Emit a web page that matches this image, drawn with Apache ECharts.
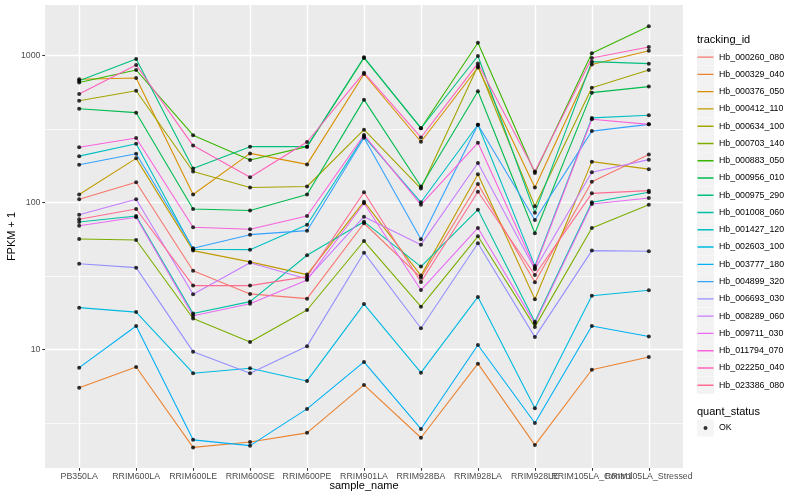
<!DOCTYPE html>
<html>
<head>
<meta charset="utf-8">
<script src="https://cdn.jsdelivr.net/npm/echarts@6/dist/echarts.min.js"></script>
<style>
html,body{margin:0;padding:0;background:#ffffff;}
#chart{width:800px;height:500px;}
</style>
</head>
<body>
<div id="chart"></div>
<script>
// ---- data (FPKM + 1 values) ----
const categories = ["PB350LA","RRIM600LA","RRIM600LE","RRIM600SE","RRIM600PE","RRIM901LA","RRIM928BA","RRIM928LA","RRIM928LE","RRIM105LA_Control","RRIM105LA_Stressed"];

const Hb_000260_080 = [105, 137, 34.2, 23.8, 22.1, 72, 30.7, 133, 28.6, 138, 211];
const Hb_000329_040 = [5.48, 7.58, 2.15, 2.34, 2.70, 5.72, 2.50, 7.98, 2.23, 7.26, 8.86];
const Hb_000376_050 = [687, 701, 113, 215, 181, 746, 258, 826, 126, 866, 1075];
const Hb_000412_110 = [113, 199, 46.9, 39.3, 32.2, 101, 31.7, 155, 21.9, 189, 168];
const Hb_000634_100 = [491, 574, 162, 126, 128, 312, 124, 846, 94, 602, 794];
const Hb_000703_140 = [56.3, 55.4, 16.2, 11.2, 18.5, 54.5, 19.5, 58.7, 14.2, 66.9, 96.3];
const Hb_000883_050 = [652, 794, 286, 194, 239, 958, 319, 1218, 158, 1032, 1575];
const Hb_000956_010 = [433, 407, 90, 88, 113, 499, 128, 569, 61.5, 557, 612];
const Hb_000975_290 = [672, 944, 170, 239, 239, 969, 319, 989, 85, 905, 877];
const Hb_001008_060 = [73.5, 80.7, 17.5, 21.1, 43.6, 73.8, 36.5, 89.1, 15.4, 100, 117];
const Hb_001427_120 = [206, 250, 47.9, 47.6, 70.4, 280, 100, 337, 36.9, 375, 391];
const Hb_002603_100 = [19.2, 17.9, 6.87, 7.43, 6.09, 20.3, 6.93, 22.7, 3.97, 23.1, 25.2];
const Hb_003777_180 = [7.5, 14.4, 2.42, 2.21, 3.93, 8.2, 2.87, 10.7, 3.15, 14.4, 12.2];
const Hb_004899_320 = [180, 214, 48.7, 60.2, 64.1, 275, 56, 337, 75.8, 305, 339];
const Hb_006693_030 = [38.2, 35.9, 9.63, 6.87, 10.5, 45.4, 13.9, 52.6, 12.1, 46.9, 46.4];
const Hb_008289_060 = [82.3, 105, 23.7, 38.8, 30.1, 79.8, 51.5, 185, 35, 160, 195];
const Hb_009711_030 = [69.3, 79.1, 16.9, 20.4, 29.6, 98.5, 25.3, 66.9, 15.0, 97.4, 107];
const Hb_011794_070 = [237, 274, 67.6, 65.5, 80.7, 287, 96.3, 254, 35.9, 367, 339];
const Hb_022250_040 = [545, 859, 243, 148, 257, 761, 276, 880, 162, 958, 1139];
const Hb_023386_080 = [76.6, 90, 27.1, 27.1, 31.2, 117, 28.7, 118, 32, 115, 120];

const trackingIds = ["Hb_000260_080","Hb_000329_040","Hb_000376_050","Hb_000412_110","Hb_000634_100","Hb_000703_140","Hb_000883_050","Hb_000956_010","Hb_000975_290","Hb_001008_060","Hb_001427_120","Hb_002603_100","Hb_003777_180","Hb_004899_320","Hb_006693_030","Hb_008289_060","Hb_009711_030","Hb_011794_070","Hb_022250_040","Hb_023386_080"];
const seriesValues = [Hb_000260_080,Hb_000329_040,Hb_000376_050,Hb_000412_110,Hb_000634_100,Hb_000703_140,Hb_000883_050,Hb_000956_010,Hb_000975_290,Hb_001008_060,Hb_001427_120,Hb_002603_100,Hb_003777_180,Hb_004899_320,Hb_006693_030,Hb_008289_060,Hb_009711_030,Hb_011794_070,Hb_022250_040,Hb_023386_080];
const quantStatus = ["OK"];
const yMajorTicks = [10, 100, 1000];
const yMinorTicks = [Math.sqrt(10), 10*Math.sqrt(10), 100*Math.sqrt(10)];

// ---- style ----
const colors = ["#F8766D","#EA8331","#D89000","#C09B00","#A3A500","#7CAE00","#39B600","#00BB4E","#00BF7D","#00C1A3","#00BFC4","#00BAE0","#00B0F6","#35A2FF","#9590FF","#C77CFF","#E76BF3","#FA62DB","#FF62BC","#FF6C91"];
const FONT = "'Liberation Sans', Arial, Helvetica, sans-serif";
const Y_MIN = 1.557, Y_MAX = 2198;
const catIdx = categories.map((c, i) => i);
// label index drawn by a second, overlaid x axis (so the overlapping labels all stay visible)
const SPLIT_LABEL = 9;

const lineIcon = 'path://M0,0h0.01v0.01h-0.01z M0.5,7.8h16v1.4h-16z M16.99,16.99h0.01v0.01h-0.01z';
const dotIcon = 'path://M0,0h0.01v0.01h-0.01z M6.5,8.5a2,2 0 1,0 4,0a2,2 0 1,0 -4,0z M16.99,16.99h0.01v0.01h-0.01z';

const lineSeries = trackingIds.map((name, i) => ({
  name: name,
  type: 'line',
  xAxisIndex: 0,
  yAxisIndex: 0,
  data: seriesValues[i].map((v, j) => [j, v]),
  symbol: 'none',
  lineStyle: { color: colors[i], width: 1.1 },
  itemStyle: { color: colors[i] },
  emphasis: { disabled: true },
  z: 2,
  silent: true
}));

const pointData = [];
seriesValues.forEach(vals => vals.forEach((v, j) => pointData.push([j, v])));
const pointSeries = {
  name: quantStatus[0],
  type: 'scatter',
  xAxisIndex: 0,
  yAxisIndex: 0,
  data: pointData,
  symbol: 'circle',
  symbolSize: 4,
  itemStyle: { color: '#000000', borderWidth: 0 },
  emphasis: { disabled: true },
  z: 3,
  silent: true
};

const isPow10 = v => { const l = Math.log10(v); return Math.abs(l - Math.round(l)) < 1e-6; };
const catLabel = (v, skip) => {
  const r = Math.round(v);
  if (Math.abs(v - r) > 1e-6 || r === skip) return '';
  return categories[r] || '';
};

const labelStyle = { margin: 4.5, fontSize: 8.8, color: '#4D4D4D', fontFamily: FONT,
  showMinLabel: true, showMaxLabel: true, hideOverlap: false };

const chart = echarts.init(document.getElementById('chart'), null, { renderer: 'canvas' });
chart.setOption({
  animation: false,
  backgroundColor: '#ffffff',
  textStyle: { fontFamily: FONT },
  title: [
    { text: 'tracking_id', left: 697, top: 34, padding: 0,
      textStyle: { fontSize: 11, fontWeight: 'normal', color: '#000', fontFamily: FONT } },
    { text: 'quant_status', left: 697, top: 406, padding: 0,
      textStyle: { fontSize: 11, fontWeight: 'normal', color: '#000', fontFamily: FONT } }
  ],
  grid: {
    left: 45, right: 117, top: 5, bottom: 32,
    containLabel: false, outerBoundsMode: 'none',
    show: true, backgroundColor: '#EBEBEB', borderWidth: 0
  },
  legend: [
    { // grey key boxes
      orient: 'vertical', left: 697, top: 48.6, padding: 0,
      itemWidth: 17, itemHeight: 17, itemGap: 0.27, selectedMode: false,
      data: trackingIds.map(n => ({ name: n, icon: 'rect', itemStyle: { color: '#F2F2F2', borderWidth: 0 } })),
      formatter: () => '', z: 4
    },
    { // coloured line keys + labels
      orient: 'vertical', left: 697, top: 48.6, padding: 0,
      itemWidth: 17, itemHeight: 17, itemGap: 0.27, selectedMode: false,
      data: trackingIds.map((n, i) => ({ name: n, icon: lineIcon, itemStyle: { color: colors[i], borderWidth: 0 } })),
      textStyle: { fontSize: 8.8, color: '#000', fontFamily: FONT }, z: 5
    },
    {
      orient: 'vertical', left: 697, top: 419.5, padding: 0,
      itemWidth: 17, itemHeight: 17, selectedMode: false,
      data: quantStatus.map(n => ({ name: n, icon: 'rect', itemStyle: { color: '#F2F2F2', borderWidth: 0 } })),
      formatter: () => '', z: 4
    },
    {
      orient: 'vertical', left: 697, top: 419.5, padding: 0,
      itemWidth: 17, itemHeight: 17, selectedMode: false,
      data: quantStatus.map(n => ({ name: n, icon: dotIcon, itemStyle: { color: '#000', borderWidth: 0 } })),
      textStyle: { fontSize: 8.8, color: '#000', fontFamily: FONT }, z: 5
    }
  ],
  xAxis: [
    {
      type: 'value', min: -0.6, max: 10.6, splitNumber: 11, minInterval: 1, maxInterval: 1,
      position: 'bottom',
      name: 'sample_name', nameLocation: 'middle', nameGap: 12.5, nameMoveOverlap: false,
      nameTextStyle: { fontSize: 11, color: '#000', fontFamily: FONT },
      axisLine: { show: false, onZero: false },
      axisTick: { show: true, length: 2.75, customValues: catIdx, lineStyle: { color: '#333333', width: 1.07 } },
      axisLabel: Object.assign({ customValues: catIdx, formatter: v => catLabel(v, SPLIT_LABEL) }, labelStyle),
      splitLine: { show: true, lineStyle: { color: '#FFFFFF', width: 1.4 } }
    },
    {
      type: 'value', min: -0.6, max: 10.6, splitNumber: 11, minInterval: 1, maxInterval: 1,
      position: 'bottom',
      axisLine: { show: false, onZero: false },
      axisTick: { show: false, customValues: [SPLIT_LABEL] },
      axisLabel: Object.assign({ customValues: [SPLIT_LABEL], formatter: v => catLabel(v, -1) }, labelStyle),
      splitLine: { show: false }
    }
  ],
  yAxis: [
    {
      type: 'log', logBase: 10, min: Y_MIN, max: Y_MAX, position: 'left',
      name: 'FPKM + 1', nameLocation: 'middle', nameGap: 27.5, nameMoveOverlap: false,
      nameTextStyle: { fontSize: 11, color: '#000', fontFamily: FONT },
      axisLine: { show: false, onZero: false },
      axisTick: { show: true, length: 2.75, customValues: yMajorTicks, lineStyle: { color: '#333333', width: 1.07 } },
      axisLabel: {
        customValues: yMajorTicks, margin: 4.5, fontSize: 8.8, color: '#4D4D4D', fontFamily: FONT,
        showMinLabel: true, showMaxLabel: true,
        formatter: v => isPow10(v) ? String(Math.round(v)) : ''
      },
      splitLine: { show: true, lineStyle: { color: '#FFFFFF', width: 1.4 } }
    },
    {
      type: 'log', logBase: 10, min: Y_MIN, max: Y_MAX, position: 'left',
      axisLine: { show: false, onZero: false },
      axisTick: { show: false, customValues: yMinorTicks },
      axisLabel: { show: false, customValues: yMinorTicks },
      splitLine: { show: true, lineStyle: { color: '#FFFFFF', width: 0.7 } }
    }
  ],
  series: lineSeries.concat([pointSeries])
});
</script>
</body>
</html>
